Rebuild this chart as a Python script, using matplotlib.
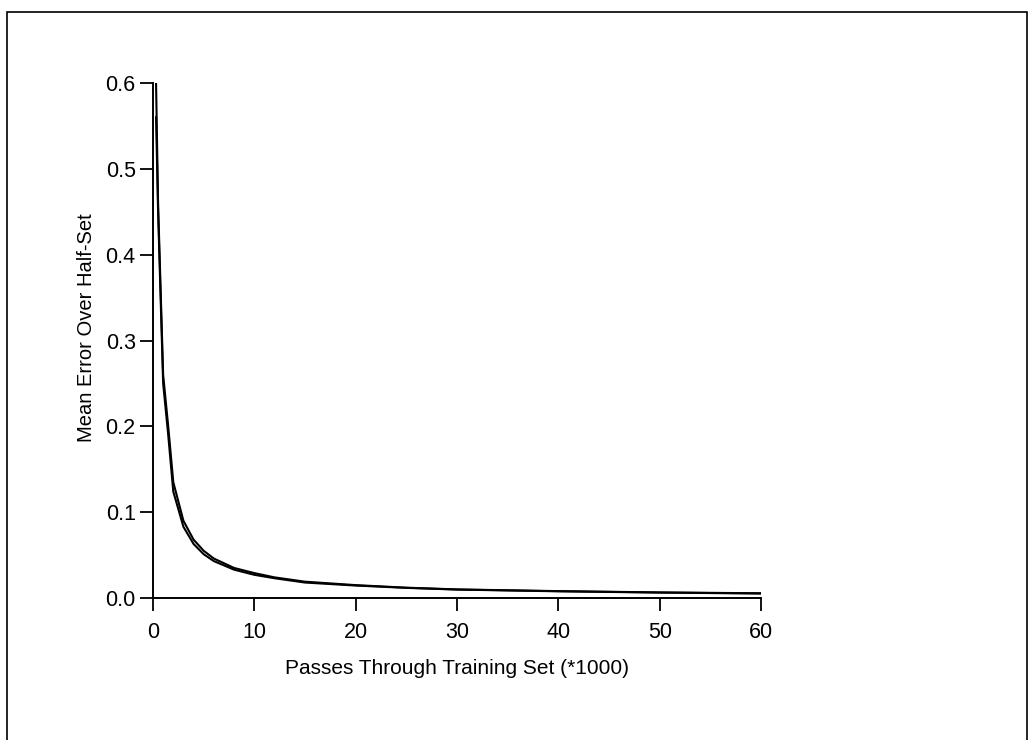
import matplotlib
matplotlib.use("Agg")
import matplotlib.pyplot as plt
from matplotlib.patches import Rectangle

plt.rcParams["font.family"] = ["Liberation Sans", "DejaVu Sans"]

# passes through training set (thousands)
passes = [0.3, 0.5, 1.0, 1.5, 2, 3, 4, 5, 6, 8, 10, 12, 15, 20, 25, 30, 40, 50, 60]
# two nearly identical error curves
err_a = [0.60, 0.46, 0.26, 0.20, 0.135, 0.090, 0.068, 0.055, 0.046, 0.035, 0.029,
         0.024, 0.019, 0.015, 0.012, 0.010, 0.008, 0.0065, 0.0055]
err_b = [0.56, 0.45, 0.25, 0.19, 0.124, 0.083, 0.063, 0.051, 0.043, 0.033, 0.027,
         0.023, 0.018, 0.0145, 0.0118, 0.0098, 0.0078, 0.0063, 0.0052]

x_ticks = [0, 10, 20, 30, 40, 50, 60]
y_ticks = [0.0, 0.1, 0.2, 0.3, 0.4, 0.5, 0.6]

fig = plt.figure(figsize=(10.29, 7.4), dpi=100)
ax = fig.add_axes([0.1487, 0.1919, 0.5909, 0.6959])

ax.plot(passes, err_a, color="black", lw=1.5)
ax.plot(passes, err_b, color="black", lw=1.5)

ax.set_xlim(0, 60)
ax.set_ylim(0, 0.6)
ax.set_xticks(x_ticks)
ax.set_xticklabels([str(t) for t in x_ticks])
ax.set_yticks(y_ticks)
ax.set_yticklabels([f"{t:.1f}" for t in y_ticks])

for side in ("top", "right"):
    ax.spines[side].set_visible(False)
for side in ("left", "bottom"):
    ax.spines[side].set_linewidth(1.4)
ax.tick_params(direction="out", length=9.5, width=1.3, labelsize=15.5)
ax.tick_params(axis="x", pad=8)
ax.tick_params(axis="y", pad=3)

ax.set_xlabel("Passes Through Training Set (*1000)", fontsize=15, labelpad=11)
ax.set_ylabel("Mean Error Over Half-Set", fontsize=14.5)
ax.yaxis.set_label_coords(-0.093, 0.525)

# scanned page frame
fig.add_artist(Rectangle((7 / 1029, -0.1), 1020 / 1029, 1.1 - 12 / 740,
                         transform=fig.transFigure, fill=False,
                         edgecolor="black", lw=1.2))

fig.savefig("out.png", dpi=100)
